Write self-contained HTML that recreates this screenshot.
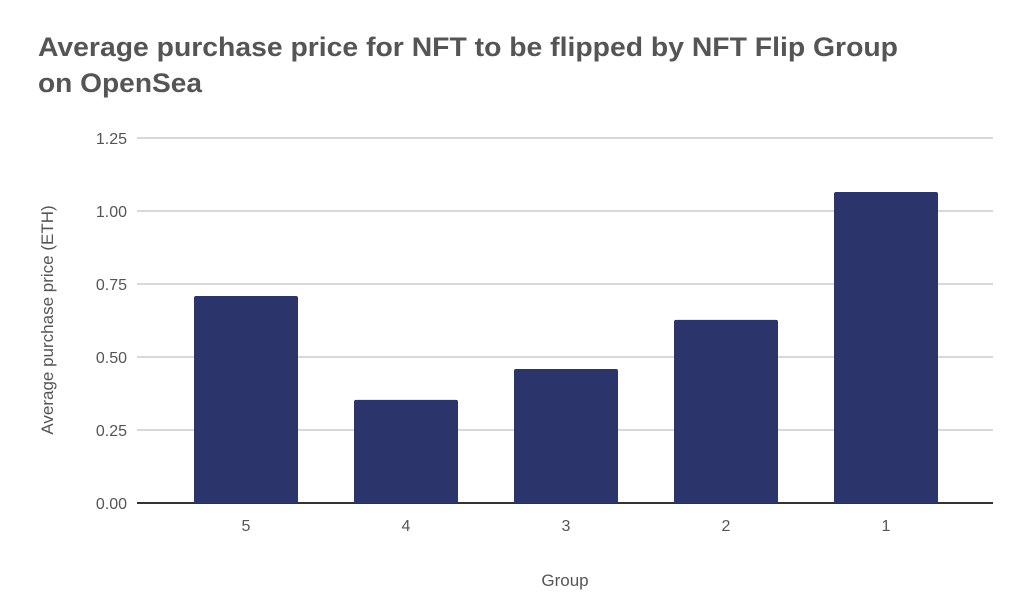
<!DOCTYPE html>
<html><head><meta charset="utf-8"><style>
html,body{margin:0;padding:0;background:#fff;}
svg{display:block;font-family:"Liberation Sans",sans-serif;}
</style></head><body>
<svg id="chart" width="1036" height="610" viewBox="0 0 1036 610">
<text x="38" y="56" font-size="27" font-weight="bold" fill="#555" textLength="860" lengthAdjust="spacingAndGlyphs">Average purchase price for NFT to be flipped by NFT Flip Group</text>
<text x="38" y="92" font-size="27" font-weight="bold" fill="#555" textLength="164" lengthAdjust="spacingAndGlyphs">on OpenSea</text>
<g id="grid"></g>
<g id="bars"></g>
<g id="xlabels"></g>
<text x="0" y="0" transform="translate(53,320) rotate(-90)" text-anchor="middle" font-size="17" fill="#555">Average purchase price (ETH)</text>
<text x="565" y="586" text-anchor="middle" font-size="17" fill="#555">Group</text>
</svg>
<script>
const categories = ["5","4","3","2","1"];
const values = [0.709, 0.353, 0.459, 0.627, 1.065];
const yTicks = [0, 0.25, 0.5, 0.75, 1.0, 1.25];
const yTickLabels = ["0.00","0.25","0.50","0.75","1.00","1.25"];
const NS="http://www.w3.org/2000/svg";
const y0=503, y1=138, yMax=1.25;
function yScale(v){return y0-(v/yMax)*(y0-y1);}
const xStart=166, xEnd=966, band=(xEnd-xStart)/categories.length, bw=104;
function xCenter(i){return xStart+band*(i+0.5);}
const grid=document.getElementById('grid');
yTicks.forEach((t,i)=>{
  const y=yScale(t);
  const l=document.createElementNS(NS,'line');
  l.setAttribute('x1',137);l.setAttribute('x2',993);l.setAttribute('y1',y);l.setAttribute('y2',y);
  l.setAttribute('stroke',t===0?'#333':'#ccc');l.setAttribute('stroke-width',t===0?2:1.5);
  
  
  grid.appendChild(l);
  const tx=document.createElementNS(NS,'text');
  tx.setAttribute('x',127);tx.setAttribute('y',y+6);tx.setAttribute('text-anchor','end');
  tx.setAttribute('font-size','16');tx.setAttribute('fill','#555');
  tx.textContent=yTickLabels[i];
  
  
  grid.appendChild(tx);
});
const bars=document.getElementById('bars'), xl=document.getElementById('xlabels');
categories.forEach((c,i)=>{
  const r=document.createElementNS(NS,'rect');
  const yt=yScale(values[i]);
  r.setAttribute('x',xCenter(i)-bw/2);r.setAttribute('width',bw);
  r.setAttribute('y',yt);r.setAttribute('height',y0-yt);
  r.setAttribute('fill','#2b356c');r.setAttribute('rx',2);
  
  
  bars.appendChild(r);
  const t=document.createElementNS(NS,'text');
  t.setAttribute('x',xCenter(i));t.setAttribute('y',531);t.setAttribute('text-anchor','middle');
  t.setAttribute('font-size','16');t.setAttribute('fill','#555');
  t.textContent=c;
  
  
  xl.appendChild(t);
});
</script>
</body></html>
